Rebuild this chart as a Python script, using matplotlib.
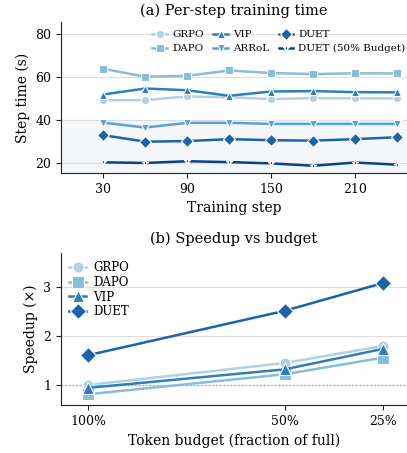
import numpy as np
import matplotlib.pyplot as plt

plt.rcParams['font.family'] = 'DejaVu Serif'

# (a) per-step training time
steps = [30, 60, 90, 120, 150, 180, 210, 240]
grpo_t = [49.2, 49.3, 51.0, 50.6, 49.8, 50.2, 50.1, 50.1]
dapo_t = [63.9, 60.2, 60.6, 63.1, 61.9, 61.4, 61.8, 61.7]
vip_t = [51.9, 54.7, 53.9, 51.3, 53.3, 53.5, 53.0, 52.9]
arrol_t = [38.8, 36.5, 38.7, 38.7, 38.2, 38.2, 38.2, 38.2]
duet_t = [33.0, 29.9, 30.2, 31.1, 30.6, 30.4, 31.1, 32.0]
duet50_t = [20.3, 20.0, 20.8, 20.4, 19.8, 18.7, 20.2, 19.2]

# (b) speedup vs budget
budget = [1.0, 0.5, 0.25]
budget_labels = ['100%', '50%', '25%']
grpo_s = [1.00, 1.45, 1.80]
dapo_s = [0.81, 1.22, 1.56]
vip_s = [0.94, 1.32, 1.74]
duet_s = [1.61, 2.52, 3.09]

c_grpo = '#afd1e7'
c_dapo = '#86bcdc'
c_vip = '#2e7ebc'
c_arrol = '#5aa2d0'
c_duet = '#1a62aa'
c_duet50 = '#0b4187'

fig = plt.figure(figsize=(4.07, 4.53), dpi=100)
ax1 = fig.add_axes([0.150, 0.618, 0.85, 0.333])
ax2 = fig.add_axes([0.150, 0.106, 0.85, 0.336])

kw = dict(linewidth=1.8, markeredgecolor='white', markeredgewidth=0.8)

ax1.axhspan(0, 40, color='#f4f7fa', zorder=0)
ax1.plot(steps, grpo_t, color=c_grpo, marker='o', markersize=6, label='GRPO', **kw)
ax1.plot(steps, dapo_t, color=c_dapo, marker='s', markersize=6, label='DAPO', **kw)
ax1.plot(steps, vip_t, color=c_vip, marker='^', markersize=6, label='VIP', **kw)
ax1.plot(steps, arrol_t, color=c_arrol, marker='v', markersize=6, label='ARRoL', **kw)
ax1.plot(steps, duet_t, color=c_duet, marker='D', markersize=6, label='DUET', **kw)
ax1.plot(steps, duet50_t, color=c_duet50, marker='*', markersize=5, label='DUET (50% Budget)', **kw)
ax1.set_xlim(0, 247)
ax1.set_ylim(15.3, 85.6)
ax1.set_xticks([30, 90, 150, 210])
ax1.set_yticks([20, 40, 60, 80])
ax1.set_xlabel('Training step', fontsize=10)
ax1.set_ylabel('Step time (s)', fontsize=10)
ax1.set_title('(a) Per-step training time', fontsize=10.5, pad=5)
ax1.legend(ncol=3, loc='upper center', bbox_to_anchor=(0.63, 0.99), frameon=False,
           fontsize=7.5, handlelength=1.4, handletextpad=0.5, columnspacing=0.9,
           labelspacing=0.45, borderaxespad=0.2)

ax2.axhline(1.0, color='#9aaecb', linestyle=':', linewidth=1.0, zorder=1)
ax2.plot(budget, grpo_s, color=c_grpo, marker='o', markersize=8, label='GRPO', **kw)
ax2.plot(budget, dapo_s, color=c_dapo, marker='s', markersize=8, label='DAPO', **kw)
ax2.plot(budget, vip_s, color=c_vip, marker='^', markersize=8, label='VIP', **kw)
ax2.plot(budget, duet_s, color=c_duet, marker='D', markersize=8, label='DUET', **kw)
ax2.set_xlim(1.0685, 0.189)
ax2.set_ylim(0.59, 3.71)
ax2.set_xticks(budget)
ax2.set_xticklabels(budget_labels)
ax2.set_yticks([1, 2, 3])
ax2.set_xlabel('Token budget (fraction of full)', fontsize=10)
ax2.set_ylabel('Speedup (×)', fontsize=10)
ax2.set_title('(b) Speedup vs budget', fontsize=10.5, pad=7)
ax2.legend(loc='upper left', frameon=False, fontsize=8.5, handlelength=1.4,
           handletextpad=0.6, labelspacing=0.15, borderaxespad=0.3)

for ax in (ax1, ax2):
    ax.grid(axis='y', color='#dddddd', linewidth=0.8)
    ax.set_axisbelow(True)
    ax.spines['top'].set_visible(False)
    ax.spines['right'].set_visible(False)
    ax.spines['left'].set_color('#222222')
    ax.spines['bottom'].set_color('#222222')
    ax.tick_params(labelsize=9, length=3.5, color='#222222')

fig.savefig('out.png', dpi=100)
